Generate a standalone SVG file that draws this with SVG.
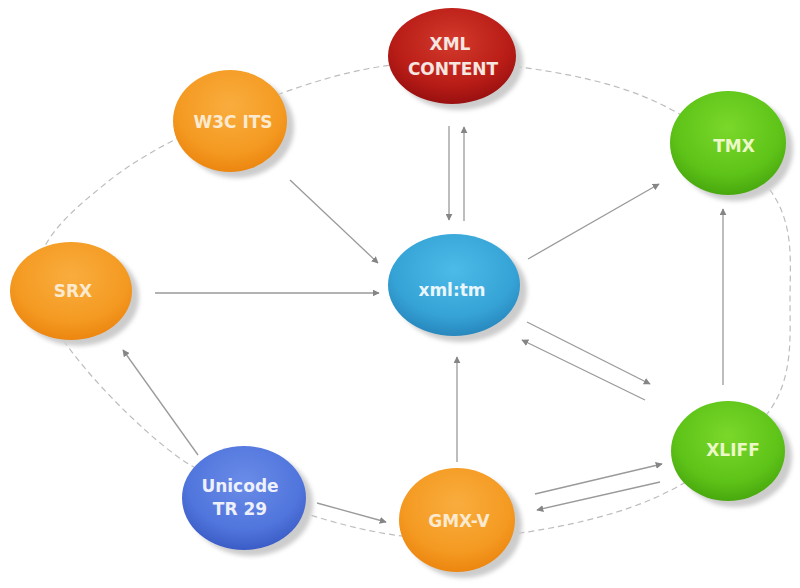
<svg xmlns="http://www.w3.org/2000/svg" width="800" height="588" viewBox="0 0 800 588">
  <defs>
    <style>
      .loop { fill: none; stroke: #bdbdbd; stroke-width: 1.2; stroke-dasharray: 6 4; }
      .edge { fill: none; stroke: #9a9a9a; stroke-width: 1.3; marker-end: url(#arrow); }
      .shadow { fill: #cccccc; filter: url(#soft); }
      .label { font-family: "DejaVu Sans", "Liberation Sans", sans-serif; font-weight: bold; font-size: 17px; text-anchor: middle; }
      .red { fill: url(#gRed); }
      .orange { fill: url(#gOrange); }
      .green { fill: url(#gGreen); }
      .cyan { fill: url(#gCyan); }
      .blue { fill: url(#gBlue); }
      .tRed { fill: #f6e6e0; }
      .tOrange { fill: #fbead0; }
      .tGreen { fill: #ecf8c8; }
      .tCyan { fill: #eaf6fb; }
      .tBlue { fill: #eef0fb; }
    </style>
    <filter id="soft" x="-20%" y="-20%" width="140%" height="140%">
      <feGaussianBlur stdDeviation="2"/>
    </filter>
    <marker id="arrow" viewBox="0 0 10 10" refX="9" refY="5" markerWidth="7" markerHeight="7" markerUnits="userSpaceOnUse" orient="auto">
      <path d="M0,0 L10,5 L0,10 z" fill="#858585"/>
    </marker>
    <radialGradient id="gRed" cx="50%" cy="35%" r="65%">
      <stop offset="0" stop-color="#d43a2c"/>
      <stop offset="0.7" stop-color="#b81c16"/>
      <stop offset="1" stop-color="#981010"/>
    </radialGradient>
    <radialGradient id="gOrange" cx="50%" cy="35%" r="65%">
      <stop offset="0" stop-color="#f9ad3e"/>
      <stop offset="0.7" stop-color="#f49a22"/>
      <stop offset="1" stop-color="#ec8610"/>
    </radialGradient>
    <radialGradient id="gGreen" cx="50%" cy="35%" r="65%">
      <stop offset="0" stop-color="#7ad82a"/>
      <stop offset="0.7" stop-color="#5ec318"/>
      <stop offset="1" stop-color="#48a80e"/>
    </radialGradient>
    <radialGradient id="gCyan" cx="50%" cy="35%" r="65%">
      <stop offset="0" stop-color="#4cbbe8"/>
      <stop offset="0.7" stop-color="#36a3d6"/>
      <stop offset="1" stop-color="#2787bd"/>
    </radialGradient>
    <radialGradient id="gBlue" cx="50%" cy="35%" r="65%">
      <stop offset="0" stop-color="#6a8ce8"/>
      <stop offset="0.7" stop-color="#5075dc"/>
      <stop offset="1" stop-color="#3b5cc6"/>
    </radialGradient>
  </defs>

  <rect width="800" height="588" fill="#ffffff"/>

  <g id="connectors">
    <!-- dashed ring linking the outer standards -->
    <path class="loop" d="M446,62 C505.2,62.5 586,73.7 640,95 C694,116.3 745,155.8 770,190 C795,224.2 790,263.3 790,300 C790,336.7 793.3,376.7 770,410 C746.7,443.3 700,478.7 650,500 C600,521.3 525,535 470,538 C415,541 370.8,533.2 320,518 C269.2,502.8 212,485 165,447 C118,409 47.2,334.5 38,290 C28.8,245.5 68.8,213 110,180 C151.2,147 229,111.7 285,92 C341,72.3 386.8,61.5 446,62 Z"/>
    <!-- directed links -->
    <line class="edge" x1="449" y1="126" x2="449" y2="220"/>
    <line class="edge" x1="464" y1="221" x2="464" y2="127"/>
    <line class="edge" x1="290" y1="180" x2="378" y2="263"/>
    <line class="edge" x1="155" y1="293" x2="379" y2="293"/>
    <line class="edge" x1="528" y1="259" x2="659" y2="184"/>
    <line class="edge" x1="527" y1="322" x2="650" y2="384"/>
    <line class="edge" x1="645" y1="400" x2="522" y2="340"/>
    <line class="edge" x1="723" y1="385" x2="723" y2="209"/>
    <line class="edge" x1="457" y1="462" x2="457" y2="357"/>
    <line class="edge" x1="535" y1="494" x2="662" y2="464"/>
    <line class="edge" x1="660" y1="482" x2="537" y2="510"/>
    <line class="edge" x1="317" y1="503" x2="386" y2="522"/>
    <line class="edge" x1="198" y1="455" x2="123" y2="350"/>
  </g>

  <g id="xml-content">
    <ellipse class="shadow" cx="459" cy="62" rx="64" ry="48"/>
    <ellipse class="red" cx="452" cy="56" rx="64" ry="48"/>
    <text class="label tRed" x="450" y="50">XML</text>
    <text class="label tRed" x="453" y="75">CONTENT</text>
  </g>

  <g id="w3c-its">
    <ellipse class="shadow" cx="237" cy="127" rx="57" ry="51"/>
    <ellipse class="orange" cx="230" cy="121" rx="57" ry="51"/>
    <text class="label tOrange" x="233" y="128">W3C ITS</text>
  </g>

  <g id="tmx">
    <ellipse class="shadow" cx="735" cy="149" rx="58" ry="52"/>
    <ellipse class="green" cx="728" cy="143" rx="58" ry="52"/>
    <text class="label tGreen" x="734" y="152">TMX</text>
  </g>

  <g id="srx">
    <ellipse class="shadow" cx="78" cy="297" rx="61" ry="49"/>
    <ellipse class="orange" cx="71" cy="291" rx="61" ry="49"/>
    <text class="label tOrange" x="73" y="297">SRX</text>
  </g>

  <g id="xml-tm">
    <ellipse class="shadow" cx="461" cy="291" rx="66" ry="51"/>
    <ellipse class="cyan" cx="454" cy="285" rx="66" ry="51"/>
    <text class="label tCyan" x="452" y="296">xml:tm</text>
  </g>

  <g id="xliff">
    <ellipse class="shadow" cx="735" cy="457" rx="57" ry="50"/>
    <ellipse class="green" cx="728" cy="451" rx="57" ry="50"/>
    <text class="label tGreen" x="733" y="456">XLIFF</text>
  </g>

  <g id="unicode-tr29">
    <ellipse class="shadow" cx="251" cy="504" rx="62" ry="52"/>
    <ellipse class="blue" cx="244" cy="498" rx="62" ry="52"/>
    <text class="label tBlue" x="240" y="492">Unicode</text>
    <text class="label tBlue" x="240" y="515">TR 29</text>
  </g>

  <g id="gmx-v">
    <ellipse class="shadow" cx="464" cy="526" rx="58" ry="52"/>
    <ellipse class="orange" cx="457" cy="520" rx="58" ry="52"/>
    <text class="label tOrange" x="459" y="527">GMX-V</text>
  </g>
</svg>
